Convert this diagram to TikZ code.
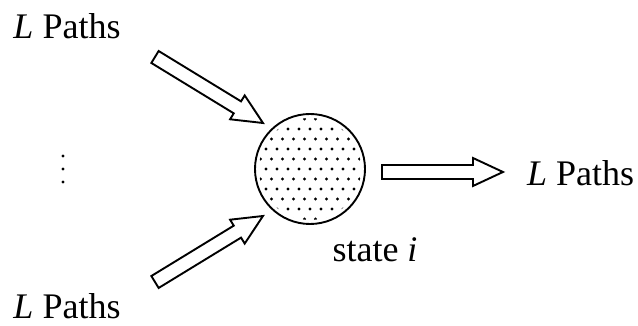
\documentclass[tikz,border=0pt]{standalone}
\usepackage{fontspec}
\setmainfont{Liberation Serif}
\usetikzlibrary{calc}
\tikzset{
  blk/.style={draw=black, line width=1.9pt, fill=white, line join=miter},
  lbl/.style={font=\fontsize{36}{42}\selectfont, inner sep=0pt},
  vdot/.style={circle, fill=black, inner sep=0pt, minimum size=3.4pt},
}
\newcommand\blockarr[2]{%
 \coordinate (#1-h) at ($(#2)!30pt!(#1)$);
 \draw[blk] ($(#1)!7pt!90:(#2)$) -- ($(#1-h)!7pt!-90:(#1)$) -- ($(#1-h)!14pt!-90:(#1)$) -- (#2) -- ($(#1-h)!14pt!90:(#1)$) -- ($(#1-h)!7pt!90:(#1)$) -- ($(#1)!7pt!-90:(#2)$) -- cycle;}
\begin{document}
\begin{tikzpicture}[x=1pt,y=1pt]
\useasboundingbox (0,0) rectangle (638,326);
% state circle
\node[circle, draw, line width=1.9pt, minimum size=110pt, inner sep=0pt] (st) at (310,157) {};
\begin{scope}
  \clip (310,157) circle (51pt);
  \foreach \r in {-6,...,6}{
    \foreach \c in {-6,...,6}{
      \pgfmathsetmacro{\xx}{310+11*\c+5.5*mod(abs(\r),2)}
      \pgfmathsetmacro{\yy}{157+10*\r}
      \fill (\xx,\yy) circle (1.6pt);
    }
  }
\end{scope}
% labels
\node[lbl] (tl) at (67,300) {\textit{L} Paths};
\node[lbl] (bl) at (67,20) {\textit{L} Paths};
\node[lbl, anchor=west] (rl) at (527,153) {\textit{L} Paths};
\node[lbl] (si) at (375,76) {state \textit{i}};
% vertical dots
\node[vdot] (d1) at (63,170) {};
\node[vdot] (d2) at (63,157) {};
\node[vdot] (d3) at (63,144) {};
% arrows
\coordinate (a1) at (155,269);
\coordinate (a1t) at (263,203);
\coordinate (a2) at (155,44);
\coordinate (a2t) at (263,110);
\coordinate (a3) at (382,154);
\coordinate (a3t) at (503,154);
\blockarr{a1}{a1t}
\blockarr{a2}{a2t}
\blockarr{a3}{a3t}
\end{tikzpicture}
\end{document}
